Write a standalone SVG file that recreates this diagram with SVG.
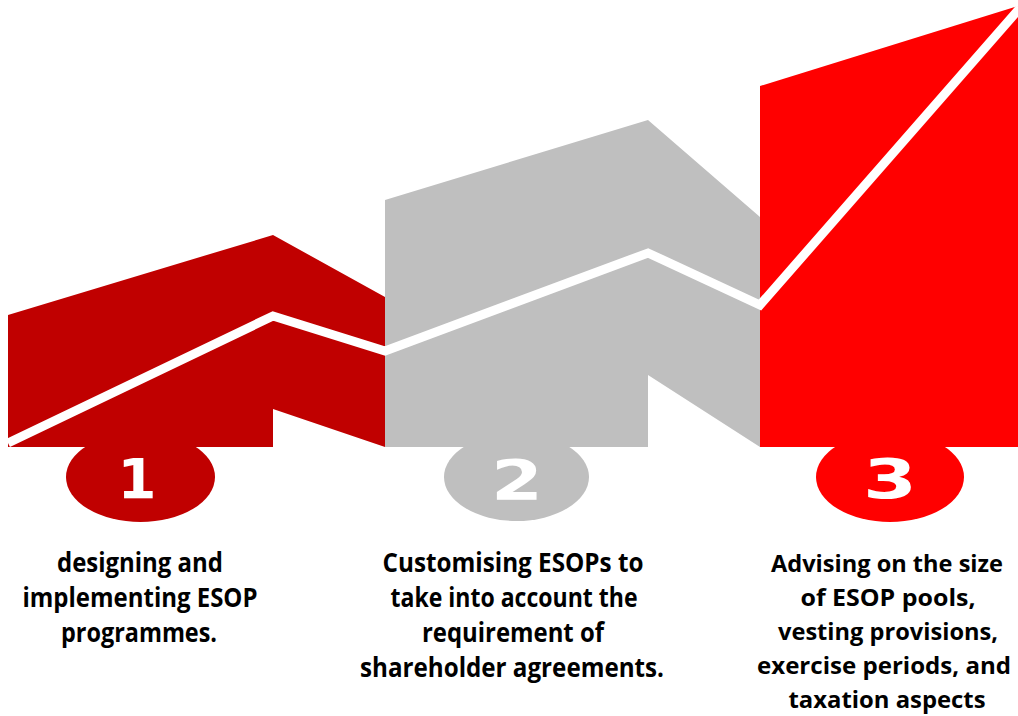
<svg xmlns="http://www.w3.org/2000/svg" width="1018" height="716" viewBox="0 0 1018 716">
<style>
.lbl{font-family:"Open Sans",Lato,"Liberation Sans",sans-serif;font-weight:bold;font-size:26px;fill:#000;text-anchor:middle}
.lbl.c3{font-size:24px}
.num{font-family:"DejaVu Sans","Liberation Sans",sans-serif;font-weight:bold;font-size:56px;fill:#fff;text-anchor:middle}
</style>
<rect width="1018" height="716" fill="#fff"/>
<g id="step1">
<ellipse cx="140.5" cy="477" rx="74.5" ry="45" fill="#C00000"/>
<polygon points="8,315 273,235 385,297 385,447 273,409 273,447 8,447" fill="#C00000"/>
<text class="num" x="137" y="498">1</text>
<text class="lbl" x="140" y="572" textLength="166" lengthAdjust="spacingAndGlyphs">designing and</text>
<text class="lbl" x="140" y="607" textLength="235" lengthAdjust="spacingAndGlyphs">implementing ESOP</text>
<text class="lbl" x="139" y="642" textLength="156" lengthAdjust="spacingAndGlyphs">programmes.</text>
</g>
<g id="step2">
<ellipse cx="516.5" cy="477" rx="72.5" ry="44" fill="#BFBFBF"/>
<polygon points="385,200 648,120 760,217 760,447 648,375 648,447 385,447" fill="#BFBFBF"/>
<text class="num" x="517" y="499" textLength="52" lengthAdjust="spacingAndGlyphs">2</text>
<text class="lbl" x="513" y="572" textLength="261" lengthAdjust="spacingAndGlyphs">Customising ESOPs to</text>
<text class="lbl" x="514" y="607" textLength="247" lengthAdjust="spacingAndGlyphs">take into account the</text>
<text class="lbl" x="513" y="642" textLength="182" lengthAdjust="spacingAndGlyphs">requirement of</text>
<text class="lbl" x="512" y="677" textLength="304" lengthAdjust="spacingAndGlyphs">shareholder agreements.</text>
</g>
<g id="step3">
<ellipse cx="890" cy="477" rx="74" ry="45" fill="#FF0000"/>
<polygon points="760,86 1018,6 1018,447 760,447" fill="#FF0000"/>
<text class="num" x="890" y="498" textLength="54" lengthAdjust="spacingAndGlyphs">3</text>
<text class="lbl c3" x="887" y="572" textLength="232" lengthAdjust="spacingAndGlyphs">Advising on the size</text>
<text class="lbl c3" x="888" y="606" textLength="175" lengthAdjust="spacingAndGlyphs">of ESOP pools,</text>
<text class="lbl c3" x="888" y="640" textLength="220" lengthAdjust="spacingAndGlyphs">vesting provisions,</text>
<text class="lbl c3" x="884" y="674" textLength="254" lengthAdjust="spacingAndGlyphs">exercise periods, and</text>
<text class="lbl c3" x="887" y="708" textLength="197" lengthAdjust="spacingAndGlyphs">taxation aspects</text>
</g>
<g id="connectors">
<polyline points="8,443 273,316 385,351 648,253 760,305 1020,8" fill="none" stroke="#fff" stroke-width="9" stroke-linejoin="miter"/>
</g>
</svg>
